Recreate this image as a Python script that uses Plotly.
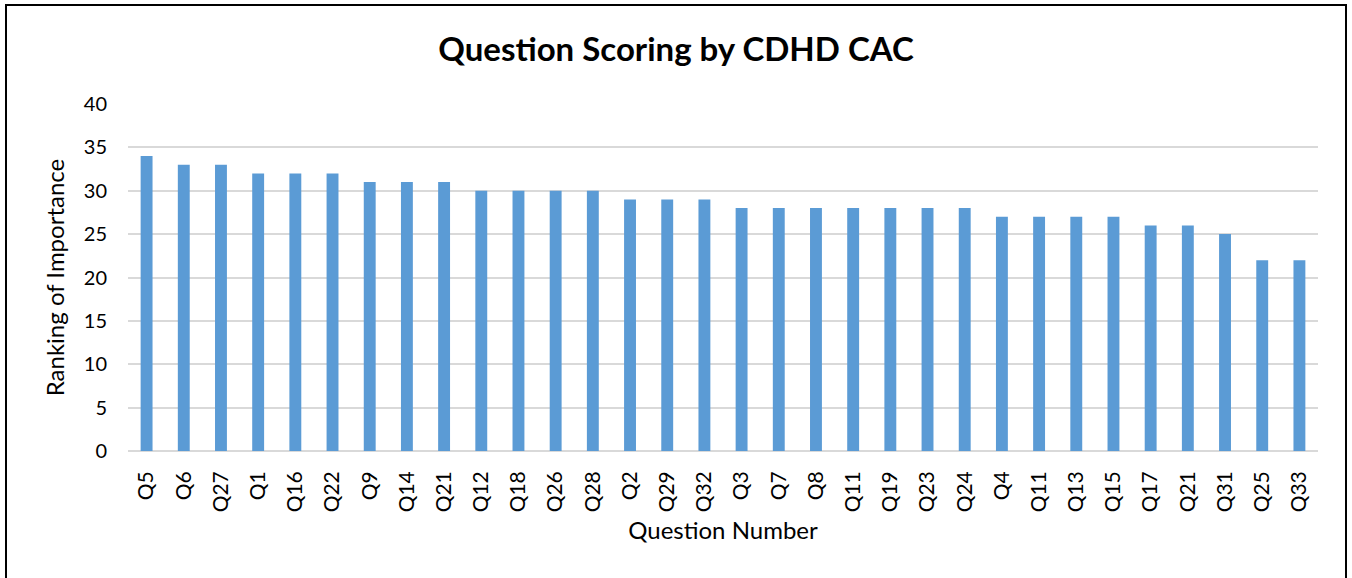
import plotly.graph_objects as go

categories = ["Q5", "Q6", "Q27", "Q1", "Q16", "Q22", "Q9", "Q14", "Q21", "Q12", "Q18", "Q26",
              "Q28", "Q2", "Q29", "Q32", "Q3", "Q7", "Q8", "Q11", "Q19", "Q23", "Q24", "Q4",
              "Q11", "Q13", "Q15", "Q17", "Q21", "Q31", "Q25", "Q33"]
values = [34, 33, 33, 32, 32, 32, 31, 31, 31, 30, 30, 30, 30, 29, 29, 29, 28, 28, 28, 28,
          28, 28, 28, 27, 27, 27, 27, 26, 26, 25, 22, 22]
y_ticks = [0, 5, 10, 15, 20, 25, 30, 35, 40]

positions = list(range(len(categories)))
FONT = "Lato, 'Open Sans', sans-serif"

fig = go.Figure(go.Bar(
    x=positions, y=values,
    marker=dict(color="#5b9bd5", line=dict(width=0)),
    hovertext=categories,
))

W, H = 1352, 578
L, R, T, B = 128, 34, 104, 127
pw, ph = W - L - R, H - T - B

def px_to_paper_x(px):
    return (px - L) / pw

def px_to_paper_y(py):
    return (H - B - py) / ph

fig.update_layout(
    width=W, height=H,
    margin=dict(l=L, r=R, t=T, b=B),
    paper_bgcolor="white", plot_bgcolor="white",
    bargap=0.68,
    showlegend=False,
    font=dict(family=FONT, color="#000000"),
    title=dict(text="<b>Question Scoring by CDHD CAC</b>", x=0.5, xref="container",
               xanchor="center", y=1 - 49 / H, yanchor="middle",
               font=dict(size=33, family=FONT, color="#000000")),
    xaxis=dict(
        tickmode="array", tickvals=positions, ticktext=categories,
        range=[-0.5, len(categories) - 0.5],
        tickangle=-90, tickfont=dict(size=21, color="#000000"),
        showgrid=False, zeroline=False, showline=False, ticks="",
        ticklabelstandoff=15,
        title=dict(text="Question Number", font=dict(size=24, color="#000000"), standoff=10),
    ),
    yaxis=dict(
        range=[0, 40], tickmode="array", tickvals=y_ticks,
        tickfont=dict(size=20, color="#000000"),
        showgrid=True, gridcolor="#d9d9d9", gridwidth=1.5,
        zeroline=True, zerolinecolor="#d9d9d9", zerolinewidth=2,
        ticks="", ticklabelstandoff=20,
        title=dict(text="Ranking of Importance", font=dict(size=24, color="#000000"), standoff=12),
    ),
    shapes=[dict(
        type="rect", xref="paper", yref="paper",
        x0=px_to_paper_x(6), x1=px_to_paper_x(1346),
        y0=px_to_paper_y(600), y1=px_to_paper_y(5),
        line=dict(color="#000000", width=2), fillcolor="rgba(0,0,0,0)", layer="above",
    )],
)

fig.write_html("out.html", config={"displayModeBar": False},
               post_script="document.body.style.margin='0px';document.body.style.overflow='hidden';")
